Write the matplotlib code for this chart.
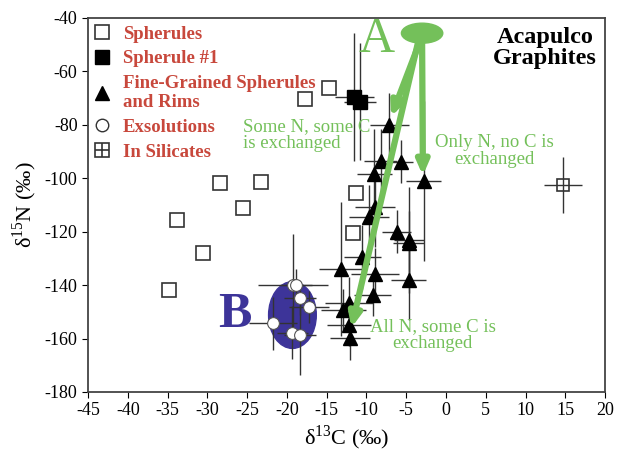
import matplotlib
matplotlib.use('Agg')
import matplotlib.pyplot as plt
from matplotlib.lines import Line2D
from matplotlib.patches import Ellipse
import numpy as np

plt.rcParams['font.family'] = ['Liberation Serif', 'DejaVu Serif']
plt.rcParams['mathtext.fontset'] = 'custom'
plt.rcParams['mathtext.rm'] = 'Liberation Serif'
plt.rcParams['axes.unicode_minus'] = False

# spherules (open squares)
sph_x = [-34.8, -33.8, -30.5, -28.4, -25.5, -23.3, -17.7, -14.7, -11.3, -11.7]
sph_y = [-141.8, -115.6, -127.9, -101.9, -111.3, -101.4, -70.4, -66.3, -105.6, -120.6]

# spherule #1 (filled squares)
sph1_x = [-11.5, -10.8]
sph1_y = [-69.5, -71.3]
sph1_xerr = [2.5, 2.0]
sph1_yerr = [24, 22]

# fine-grained spherules and rims (triangles)
fg_x = [-7.1, -8.2, -5.7, -9.0, -2.8, -8.9, -9.7, -6.2, -4.6, -4.7,
        -10.5, -13.2, -8.9, -4.7, -9.2, -12.2, -12.9, -12.2, -12.1]
fg_y = [-80.1, -93.5, -93.8, -98.4, -101.1, -110.9, -114.4, -120.0, -123.1, -124.4,
        -129.4, -134.0, -136.0, -138.1, -143.7, -146.8, -149.3, -154.9, -159.9]
fg_xerr = [2.4, 2.1, 1.5, 2.2, 2.2, 2.5, 2.5, 1.8, 1.9, 2.0,
           2.3, 2.7, 3.0, 2.2, 2.3, 3.0, 2.8, 2.8, 2.5]
fg_yerr = [12, 12, 8, 17, 30, 15, 12, 8, 20, 12,
           12, 25, 10, 15, 8, 10, 8, 8, 8]

# exsolutions (open circles)
ex_x = [-19.2, -18.85, -18.4, -17.2, -21.7, -19.3, -18.3]
ex_y = [-140.0, -140.0, -145.0, -148.3, -154.3, -157.8, -158.7]
ex_xerr = [4.4, 2.0, 2.0, 2.5, 3.0, 2.0, 2.0]
ex_yerr = [19, 6, 6, 6, 10, 10, 15]

# in silicates
sil_x = [14.7]
sil_y = [-102.5]
sil_xerr = [2.4]
sil_yerr = [10.5]

# end-member regions and exchange arrows
a_center = (-3.0, -45.7)
b_center = (-19.3, -151.2)
arrow_starts = [(-3.0, -48.0), (-3.3, -49.0), (-3.5, -49.0)]
arrow_ends = [(-2.9, -99.0), (-6.9, -77.0), (-11.9, -156.0)]

green = '#74c05a'
red = '#c8483c'
blue = '#3d3499'

fig = plt.figure(figsize=(6.3, 4.55), dpi=100)
ax = fig.add_axes([0.1397, 0.1385, 0.8207, 0.822])

ax.add_patch(Ellipse(b_center, 6.0, 25.0, color=blue, zorder=1))
ax.add_patch(Ellipse(a_center, 5.2, 7.5, color=green, zorder=5))

eb = dict(fmt='none', ecolor='#333333', elinewidth=1.0, capsize=0, zorder=2)
ax.errorbar(sph1_x, sph1_y, xerr=sph1_xerr, yerr=sph1_yerr, **eb)
ax.errorbar(fg_x, fg_y, xerr=fg_xerr, yerr=fg_yerr, **eb)
ax.errorbar(ex_x, ex_y, xerr=ex_xerr, yerr=ex_yerr, **eb)
ax.errorbar(sil_x, sil_y, xerr=sil_xerr, yerr=sil_yerr, **eb)

ax.plot(sph_x, sph_y, 's', ms=9.5, mfc='white', mec='#333333', mew=1.2, zorder=3)
ax.plot(sil_x, sil_y, 's', ms=8, mfc='none', mec='#333333', mew=1.2, zorder=3)
ax.plot(sph1_x, sph1_y, 's', ms=10, mfc='black', mec='black', zorder=3)
ax.plot(fg_x, fg_y, '^', ms=9.5, mfc='black', mec='black', zorder=3)
ax.plot(ex_x, ex_y, 'o', ms=8.5, mfc='white', mec='#555555', mew=0.8, zorder=3)

for s, e in zip(arrow_starts, arrow_ends):
    ax.annotate('', xy=e, xytext=s,
                arrowprops=dict(arrowstyle='-|>,head_length=0.8,head_width=0.35',
                                color=green, lw=4.5, shrinkA=0, shrinkB=0),
                zorder=4)

ax.text(-8.7, -48.2, 'A', color=green, fontsize=36, ha='center', va='center', zorder=6)
ax.text(-26.6, -151.2, 'B', color=blue, fontsize=36, fontweight='bold',
        ha='center', va='center', zorder=6)
ax.text(19.0, -43.5, 'Acapulco\nGraphites', fontsize=17.5, fontweight='bold',
        ha='right', va='top', multialignment='center', linespacing=1.0)

ax.text(-25.5, -77.5, 'Some N, some C\nis exchanged', color=green, fontsize=13.5,
        ha='left', va='top', linespacing=0.95, zorder=6)
ax.text(-1.4, -83.5, 'Only N, no C is\nexchanged', color=green, fontsize=13.5,
        ha='left', va='top', multialignment='center', linespacing=0.95, zorder=6)
ax.text(-9.6, -152.5, 'All N, some C is\nexchanged', color=green, fontsize=13.5,
        ha='left', va='top', multialignment='center', linespacing=0.95, zorder=6)

handles = [
    Line2D([], [], ls='none', marker='s', ms=9.5, mfc='white', mec='#333333', mew=1.2),
    Line2D([], [], ls='none', marker='s', ms=10, mfc='black', mec='black'),
    Line2D([], [], ls='none', marker='^', ms=10, mfc='black', mec='black'),
    Line2D([], [], ls='none', marker='o', ms=9, mfc='white', mec='#333333', mew=1.0),
    (Line2D([], [], ls='none', marker='s', ms=9.5, mfc='white', mec='#333333', mew=1.2),
     Line2D([], [], ls='none', marker='+', ms=9.5, mec='#333333', mew=1.2)),
]
labels = ['Spherules', 'Spherule #1', 'Fine-Grained Spherules\nand Rims',
          'Exsolutions', 'In Silicates']
leg = ax.legend(handles, labels, loc='upper left', bbox_to_anchor=(-0.02, 1.02),
                frameon=False, handlelength=1.0, handletextpad=0.6,
                labelspacing=0.4, borderpad=0.3,
                prop=dict(family='Liberation Serif', weight='bold', size=13.5))
for t in leg.get_texts():
    t.set_color(red)

ax.set_xlim(-45, 20)
ax.set_ylim(-180, -40)
ax.set_xticks(np.arange(-45, 21, 5))
ax.set_yticks(np.arange(-180, -39, 20))
ax.tick_params(direction='out', length=4, labelsize=13, top=False, right=False)
for sp in ax.spines.values():
    sp.set_color('#444444')
    sp.set_linewidth(1.3)

ax.set_xlabel('δ$^{13}$C (‰)', fontsize=16, labelpad=3)
ax.set_ylabel('δ$^{15}$N (‰)', fontsize=16, labelpad=4)

fig.savefig('out.png', dpi=100)
